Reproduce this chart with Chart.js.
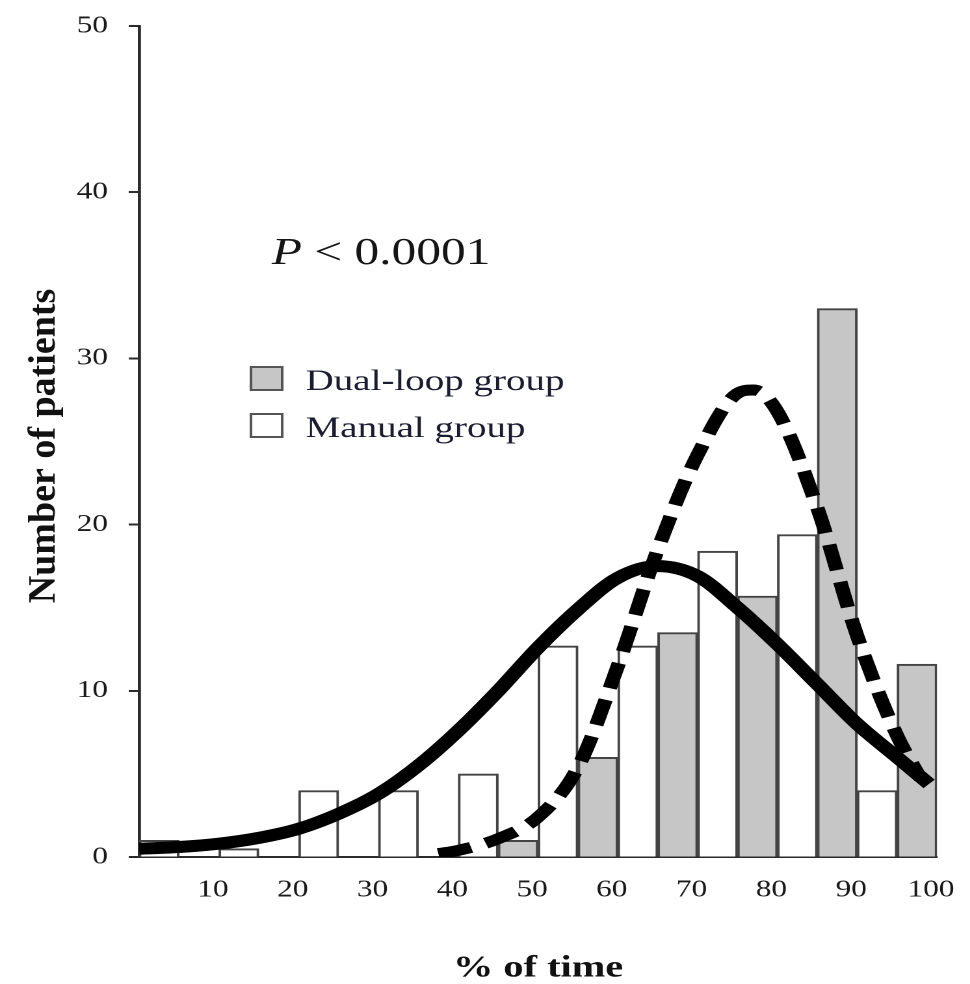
<!DOCTYPE html>
<html>
<head>
<meta charset="utf-8">
<script src="https://cdn.jsdelivr.net/npm/chart.js@4.4.1/dist/chart.umd.min.js"></script>
<style>
  html, body { margin: 0; padding: 0; background: #ffffff; overflow: hidden; }
  /* the reference figure is stretched horizontally; draw at 746px wide and stretch to 970px */
  #wrap { position: absolute; left: 0; top: 0; width: 746px; height: 984px;
          transform: scaleX(1.3003); transform-origin: 0 0; }
</style>
</head>
<body>
<div id="wrap"><canvas id="chart"></canvas></div>
<script>
// ---------------- data ----------------
const binStarts      = [0, 10, 20, 30, 40, 50, 60, 70, 80, 90];           // % of time, 10-wide bins
const manualGroup    = [1, 0.5, 4, 4, 5, 12.7, 12.7, 18.4, 19.4, 4];       // white bars
const dualLoopGroup  = [0, 0, 0, 0, 1, 6, 13.5, 15.7, 33, 11.6];           // gray bars

const manualFitX = [0, 5, 10, 15, 20, 25, 30, 35, 40, 45, 50, 55, 60, 65, 70, 75, 80, 85, 90, 95, 99];
const manualFitY = [0.5, 0.6, 0.8, 1.15, 1.7, 2.6, 3.8, 5.5, 7.6, 10.0, 12.6, 14.9, 16.8, 17.5, 16.9, 15.0, 12.8, 10.4, 8.0, 6.0, 4.4];

const dualFitX = [37.5, 40, 45, 50, 55, 60, 65, 70, 75, 77, 80, 85, 90, 95, 98];
const dualFitY = [0.2, 0.4, 1.1, 2.4, 5.4, 11.5, 18.5, 24.2, 27.9, 28.1, 26.8, 21.0, 13.3, 7.3, 4.7];

const xTickValues = [10, 20, 30, 40, 50, 60, 70, 80, 90, 100];
const yTickValues = [0, 10, 20, 30, 40, 50];
const legendLabels = ['Dual-loop group', 'Manual group'];
const pValueText = '< 0.0001';
const xTitle = '% of time';
const yTitle = 'Number of patients';

// ---------------- build half-bin slots (white left, gray right) ----------------
const slotLabels = [], manualSlots = [], dualSlots = [];
binStarts.forEach((b, i) => {
  slotLabels.push(String(b), String(b + 5));
  manualSlots.push(manualGroup[i] || null, null);
  dualSlots.push(null, dualLoopGroup[i] || null);
});

const SERIF = "'Liberation Serif', 'Times New Roman', serif";
const STRETCH = 1.3003;
const GRAY = '#c6c6c6';
const EDGE = '#444444';

const annotations = {
  id: 'annotations',
  afterDraw(chart) {
    const ctx = chart.ctx;
    ctx.save();
    // y-axis title (counter-scaled so the rotated text is not widened)
    ctx.save();
    ctx.translate(34.6, 446);
    ctx.scale(1 / STRETCH, 1);
    ctx.rotate(-Math.PI / 2);
    ctx.font = 'bold 38px ' + SERIF;
    ctx.fillStyle = '#111';
    ctx.textAlign = 'center';
    ctx.textBaseline = 'middle';
    ctx.fillText(yTitle, 0, 0);
    ctx.restore();

    // P value text
    ctx.fillStyle = '#151515';
    ctx.textBaseline = 'alphabetic';
    ctx.textAlign = 'left';
    ctx.font = 'italic 38px ' + SERIF;
    const px = 209, py = 264;
    ctx.fillText('P', px, py);
    const pw = ctx.measureText('P').width;
    ctx.font = '38px ' + SERIF;
    ctx.fillText(' ' + pValueText, px + pw, py);

    // legend
    const fills = [GRAY, '#ffffff'];
    const baselines = [390, 437];
    ctx.font = '30px ' + SERIF;
    legendLabels.forEach((lab, i) => {
      const by = baselines[i];
      ctx.fillStyle = fills[i];
      ctx.fillRect(193, by - 23, 24, 23);
      ctx.lineWidth = 2;
      ctx.strokeStyle = '#555';
      ctx.strokeRect(193, by - 23, 24, 23);
      ctx.fillStyle = '#1c1c30';
      ctx.fillText(lab, 235, by);
    });
    ctx.restore();
  }
};

new Chart(document.getElementById('chart'), {
  type: 'bar',
  data: {
    labels: slotLabels,
    datasets: [
      {
        type: 'line',
        label: 'Manual group fit',
        data: manualFitX.map((x, i) => ({ x: x, y: manualFitY[i] })),
        xAxisID: 'x', yAxisID: 'y',
        borderColor: '#000', borderWidth: 12,
        pointRadius: 0, fill: false,
        cubicInterpolationMode: 'monotone',
        order: 0
      },
      {
        type: 'line',
        label: 'Dual-loop group fit',
        data: dualFitX.map((x, i) => ({ x: x, y: dualFitY[i] })),
        xAxisID: 'x', yAxisID: 'y',
        borderColor: '#000', borderWidth: 11,
        borderDash: [26, 12],
        pointRadius: 0, fill: false,
        cubicInterpolationMode: 'monotone',
        order: 0
      },
      {
        label: legendLabels[0],
        data: dualSlots,
        xAxisID: 'xb', yAxisID: 'y',
        backgroundColor: GRAY, borderColor: EDGE, borderWidth: 2,
        grouped: false, barPercentage: 1, categoryPercentage: 1,
        order: 1
      },
      {
        label: legendLabels[1],
        data: manualSlots,
        xAxisID: 'xb', yAxisID: 'y',
        backgroundColor: '#ffffff', borderColor: EDGE, borderWidth: 2,
        grouped: false, barPercentage: 1, categoryPercentage: 1,
        order: 1
      }
    ]
  },
  options: {
    responsive: true,
    maintainAspectRatio: false,
    animation: false,
    devicePixelRatio: 2,
    layout: { padding: { top: 26, right: 25.4, bottom: 0, left: 0 } },
    plugins: { legend: { display: false }, tooltip: { enabled: false } },
    scales: {
      xb: {
        type: 'category', display: false, offset: true,
        grid: { display: false }
      },
      x: {
        type: 'linear', position: 'bottom', min: 0, max: 100, offset: false,
        afterBuildTicks: s => { s.ticks = xTickValues.map(v => ({ value: v })); },
        afterFit: s => { s.height = 127; s.paddingRight = 0; s.paddingLeft = 0; },
        grid: { display: false, drawTicks: false, offset: false },
        border: { display: true, color: '#2b2b2b', width: 2 },
        ticks: {
          font: { family: SERIF, size: 24 }, color: '#1a1a1a',
          padding: 19, labelOffset: -4.6, maxRotation: 0, autoSkip: false
        },
        title: {
          display: true, text: xTitle, color: '#111',
          font: { family: SERIF, size: 31, weight: 'bold', lineHeight: 1 },
          padding: { top: 0, bottom: 0 }
        }
      },
      y: {
        min: 0, max: 50,
        afterBuildTicks: s => { s.ticks = yTickValues.map(v => ({ value: v })); },
        afterFit: s => { s.width = 107; s.paddingTop = 0; s.paddingBottom = 0; },
        grid: { drawOnChartArea: false, drawTicks: true, tickLength: 8, tickColor: '#2b2b2b', tickWidth: 2 },
        border: { display: true, color: '#2b2b2b', width: 2.4 },
        ticks: { font: { family: SERIF, size: 24 }, color: '#1a1a1a', padding: 16 },
        title: { display: false }
      }
    }
  },
  plugins: [annotations]
});
</script>
</body>
</html>
